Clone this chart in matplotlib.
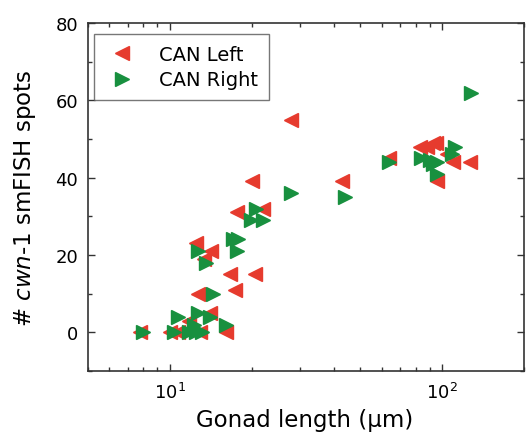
import matplotlib
matplotlib.use("Agg")
import matplotlib.pyplot as plt
from matplotlib.ticker import MultipleLocator, LogLocator

plt.rcParams['font.family'] = ['DejaVu Sans']
plt.rcParams['mathtext.fontset'] = 'dejavusans'

# CAN Left (red, left-pointing triangles)
left_x = [7.8, 10.0, 10.7, 12.9, 16.1, 11.8, 14.0, 12.7, 17.3, 16.6, 20.5, 13.4, 14.2,
          12.5, 17.6, 22.0, 20.0, 28.0, 43.0, 64.0, 83.0, 88.0, 93.0, 95.0, 104.0,
          110.0, 127.0, 95.5]
left_y = [0, 0, 0, 0, 0, 3, 5, 10, 11, 15, 15, 19, 21,
          23, 31, 32, 39, 55, 39, 45, 48, 48, 49, 49, 46,
          44, 44, 39]

# CAN Right (green, right-pointing triangles)
right_x = [8.0, 10.4, 11.8, 12.5, 13.1, 10.7, 12.7, 14.0, 12.3, 16.1, 14.4, 13.6, 12.7,
           17.6, 17.1, 17.8, 19.9, 22.0, 20.8, 28.0, 44.0, 64.0, 84.0, 90.0, 93.0,
           96.0, 95.5, 108.5, 111.7, 128.0]
right_y = [0, 0, 0, 0, 0, 4, 5, 4, 2, 2, 10, 18, 21,
           21, 24, 24, 29, 29, 32, 36, 35, 44, 45, 44.6, 43.4,
           41, 44, 46, 48, 62]

fig = plt.figure(figsize=(5.26, 4.35), dpi=100)
ax = fig.add_axes([0.167, 0.145, 0.829, 0.800])

ax.plot(left_x, left_y, linestyle='none', marker='<', ms=9.5, color='#e63b2e',
        label='CAN Left')
ax.plot(right_x, right_y, linestyle='none', marker='>', ms=9.5, color='#18903f',
        label='CAN Right')

ax.set_xscale('log')
ax.set_xlim(5, 200)
ax.set_ylim(-10, 80)
ax.yaxis.set_major_locator(MultipleLocator(20))
ax.yaxis.set_minor_locator(MultipleLocator(10))
ax.xaxis.set_minor_locator(LogLocator(base=10, subs=range(2, 10)))

ax.tick_params(which='both', direction='in', top=True, right=True, labelsize=13,
               width=1.0, color='#333333')
ax.tick_params(which='major', length=5)
ax.tick_params(which='minor', length=3)
ax.tick_params(axis='x', pad=8)
ax.tick_params(axis='y', pad=7)
for s in ax.spines.values():
    s.set_linewidth(1.2)
    s.set_color('#333333')

ax.set_xlabel('Gonad length (μm)', fontsize=16.5)
ax.set_ylabel('# $\\mathit{cwn}$-$\\mathit{1}$ smFISH spots', fontsize=16.5)
ax.xaxis.set_label_coords(0.498, -0.106)
ax.yaxis.set_label_coords(-0.115, 0.5)

leg = ax.legend(loc='upper left', fontsize=14, frameon=True, fancybox=False,
                bbox_to_anchor=(0.0, 0.985), borderaxespad=0.3,
                handletextpad=1.0, labelspacing=0.35, borderpad=0.55,
                handlelength=1.8)
leg.get_frame().set_edgecolor('#555555')
leg.get_frame().set_linewidth(1.0)

fig.savefig('out.png', dpi=100)
